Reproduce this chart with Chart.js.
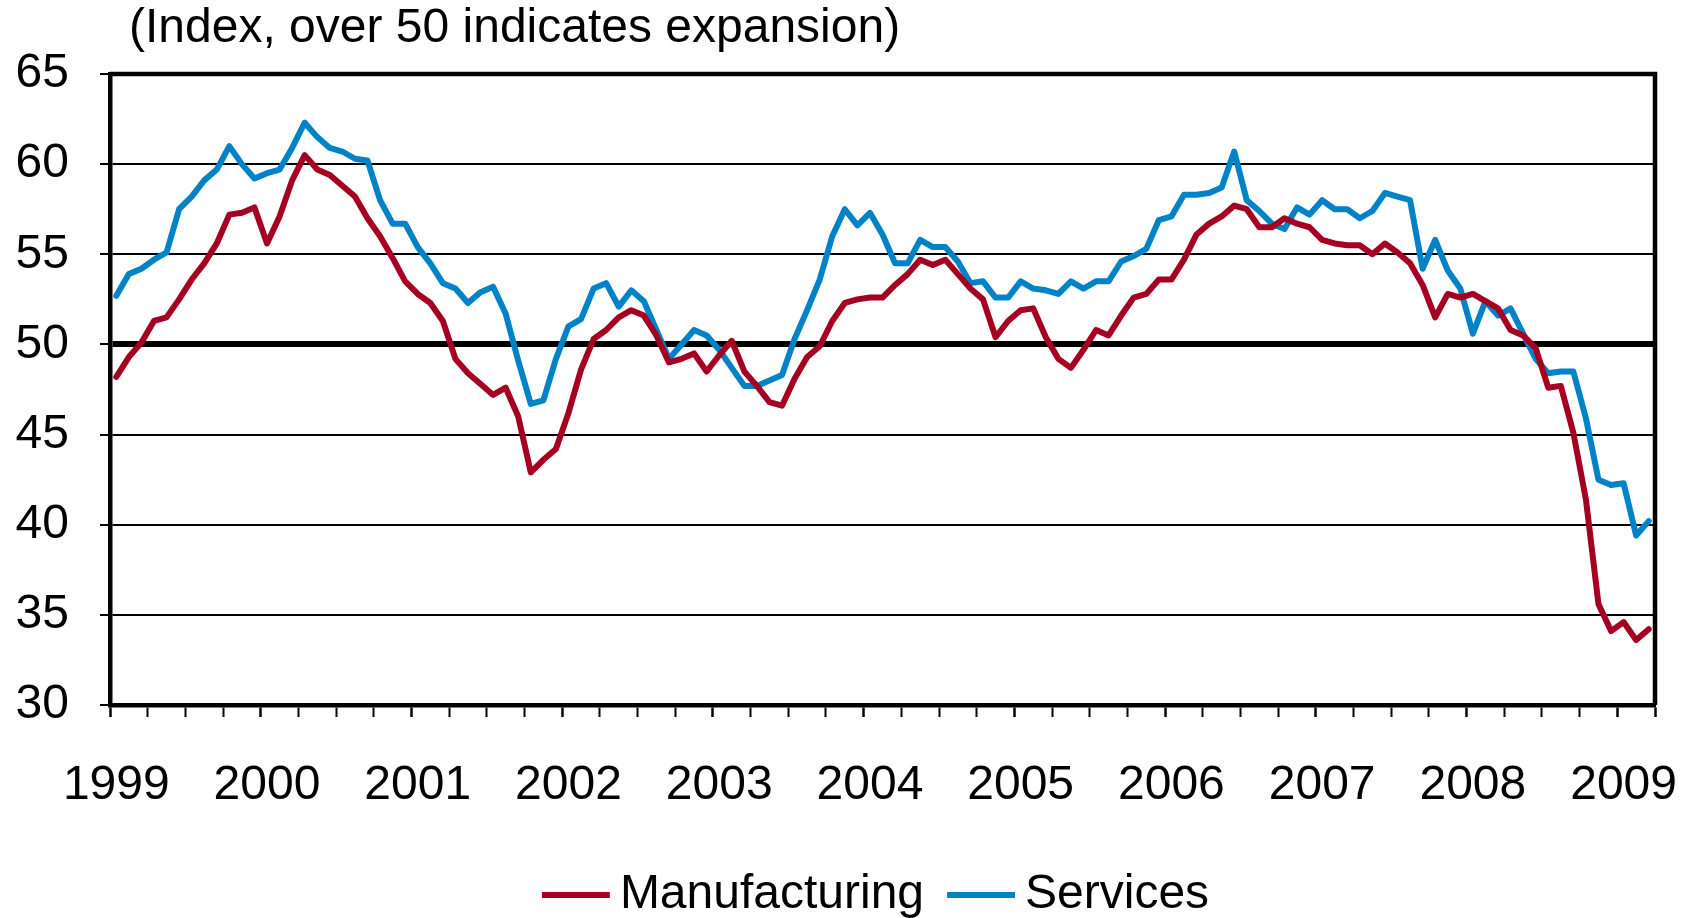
<!DOCTYPE html>
<html>
<head>
<meta charset="utf-8">
<script src="https://cdn.jsdelivr.net/npm/chart.js@4"></script>
<style>
  html, body { margin: 0; padding: 0; background: #fff; }
  #wrap { width: 1684px; height: 918px; }
</style>
</head>
<body>
<div id="wrap"><canvas id="pmiChart"></canvas></div>
<script>
// Purchasing managers' indices, monthly, Jan 1999 - Mar 2009
const years = ["1999", "2000", "2001", "2002", "2003", "2004", "2005", "2006", "2007", "2008", "2009"];
const monthNames = ["Jan", "Feb", "Mar", "Apr", "May", "Jun", "Jul", "Aug", "Sep", "Oct", "Nov", "Dec"];
const subtitle = "(Index, over 50 indicates expansion)";

const manufacturing = [
  48.2, 49.3, 50.1, 51.3, 51.5, 52.5, 53.6, 54.5, 55.6, 57.2, 57.3, 57.6,
  55.6, 57.1, 59.1, 60.5, 59.7, 59.4, 58.8, 58.2, 57.0, 56.0, 54.8, 53.5,
  52.8, 52.3, 51.3, 49.2, 48.4, 47.8, 47.2, 47.6, 46.0, 42.9, 43.6, 44.2,
  46.2, 48.6, 50.3, 50.8, 51.5, 51.9, 51.6, 50.5, 49.0, 49.2, 49.5, 48.5,
  49.4, 50.2, 48.5, 47.7, 46.8, 46.6, 48.1, 49.3, 49.9, 51.3, 52.3, 52.5,
  52.6, 52.6, 53.3, 53.9, 54.7, 54.4, 54.7, 53.9, 53.1, 52.5, 50.4, 51.3,
  51.9, 52.0, 50.4, 49.2, 48.7, 49.7, 50.8, 50.5, 51.6, 52.6, 52.8, 53.6,
  53.6, 54.7, 56.1, 56.7, 57.1, 57.7, 57.5, 56.5, 56.5, 57.0, 56.7, 56.5,
  55.8, 55.6, 55.5, 55.5, 55.0, 55.6, 55.1, 54.5, 53.3, 51.5, 52.8, 52.6,
  52.8, 52.4, 52.0, 50.8, 50.5, 49.8, 47.6, 47.7, 45.1, 41.4, 35.6, 34.1,
  34.6, 33.6, 34.2
];

const services = [
  52.7, 53.9, 54.2, 54.7, 55.1, 57.5, 58.2, 59.1, 59.7, 61.0, 60.0, 59.2,
  59.5, 59.7, 60.9, 62.3, 61.5, 60.9, 60.7, 60.3, 60.2, 58.0, 56.7, 56.7,
  55.4, 54.5, 53.4, 53.1, 52.3, 52.9, 53.2, 51.7, 49.1, 46.7, 46.9, 49.2,
  51.0, 51.4, 53.1, 53.4, 52.1, 53.0, 52.4, 50.8, 49.2, 50.0, 50.8, 50.5,
  49.7, 48.7, 47.7, 47.7, 48.0, 48.3, 50.3, 51.9, 53.6, 56.0, 57.5, 56.6,
  57.3, 56.1, 54.5, 54.5, 55.8, 55.4, 55.4, 54.6, 53.4, 53.5, 52.6, 52.6,
  53.5, 53.1, 53.0, 52.8, 53.5, 53.1, 53.5, 53.5, 54.6, 54.9, 55.3, 56.9,
  57.1, 58.3, 58.3, 58.4, 58.7, 60.7, 58.0, 57.4, 56.7, 56.4, 57.6, 57.2,
  58.0, 57.5, 57.5, 57.0, 57.4, 58.4, 58.2, 58.0, 54.2, 55.8, 54.1, 53.1,
  50.6, 52.4, 51.6, 52.0, 50.6, 49.2, 48.4, 48.5, 48.5, 45.9, 42.5, 42.2,
  42.3, 39.4, 40.2
];

// one category per month
const labels = [];
years.forEach(y => monthNames.forEach(m => labels.push(m + " " + y)));
labels.length = manufacturing.length;

const fontFamily = "'Liberation Sans', Arial, sans-serif";
Chart.defaults.font.family = fontFamily;
Chart.defaults.color = "black";

// top/right frame of the plot and the subtitle
const frameAndTitle = {
  id: "frameAndTitle",
  beforeDatasetsDraw(chart) {
    const { ctx, chartArea: a } = chart;
    ctx.save();
    ctx.strokeStyle = "black";
    ctx.lineWidth = 4.5;
    ctx.beginPath();
    ctx.moveTo(a.left, a.top);
    ctx.lineTo(a.right, a.top);
    ctx.lineTo(a.right, a.bottom);
    ctx.stroke();
    ctx.restore();
  },
  afterDraw(chart) {
    const { ctx, chartArea: a } = chart;
    ctx.save();
    ctx.fillStyle = "black";
    ctx.font = "48px " + fontFamily;
    ctx.textAlign = "left";
    ctx.textBaseline = "middle";
    ctx.fillText(subtitle, a.left + 19, a.top - 45);
    ctx.restore();
  }
};

const ctx = document.getElementById("pmiChart").getContext("2d");

const chart = new Chart(ctx, {
  type: "line",
  data: {
    labels: labels,
    datasets: [
      {
        label: "Manufacturing",
        data: manufacturing,
        borderColor: "#A50021",
        backgroundColor: "#A50021",
        borderWidth: 6,
        borderCapStyle: "round",
        borderJoinStyle: "round",
        pointRadius: 0,
        tension: 0,
        fill: false,
      },
      {
        label: "Services",
        data: services,
        borderColor: "#0083C6",
        backgroundColor: "#0083C6",
        borderWidth: 6,
        borderCapStyle: "round",
        borderJoinStyle: "round",
        pointRadius: 0,
        tension: 0,
        fill: false,
      },
    ],
  },
  options: {
    responsive: true,
    maintainAspectRatio: false,
    animation: false,
    layout: {
      padding: { top: 74, left: 10, right: 29, bottom: -11 },
    },
    plugins: {
      title: { display: false },
      tooltip: { enabled: false },
      legend: {
        position: "bottom",
        fullSize: false,
        labels: {
          usePointStyle: true,
          pointStyle: "line",
          boxWidth: 40,
          boxHeight: 48,
          padding: 37,
          color: "black",
          font: { size: 48 },
        },
      },
    },
    scales: {
      x: {
        type: "category",
        offset: true,
        grid: {
          offset: true,
          drawOnChartArea: false,
          tickLength: 12,
          tickColor: (c) => (c.index === undefined || c.index % 3 === 0 ? "black" : "rgba(0,0,0,0)"),
          tickWidth: (c) => (c.index === undefined || c.index % 12 === 0 ? 2.5 : 2),
        },
        border: { color: "black", width: 4.5 },
        ticks: {
          autoSkip: false,
          maxRotation: 0,
          minRotation: 0,
          padding: 40,
          color: "black",
          font: { size: 48 },
          callback: (value, index) => (index % 12 === 0 ? years[index / 12] : ""),
        },
        afterFit: (scale) => {
          scale.height = 129;
          scale.paddingLeft = 0;
          scale.paddingRight = 0;
        },
      },
      y: {
        min: 30,
        max: 65,
        ticks: {
          stepSize: 5,
          padding: 31,
          color: "black",
          font: { size: 48 },
        },
        grid: {
          color: "black",
          lineWidth: (c) => (c.tick && c.tick.value === 50 ? 6 : 2),
          tickWidth: 2,
          tickLength: 10,
        },
        border: { color: "black", width: 4.5 },
        afterFit: (scale) => { scale.width = 100; },
      },
    },
  },
  plugins: [frameAndTitle],
});
</script>
</body>
</html>
